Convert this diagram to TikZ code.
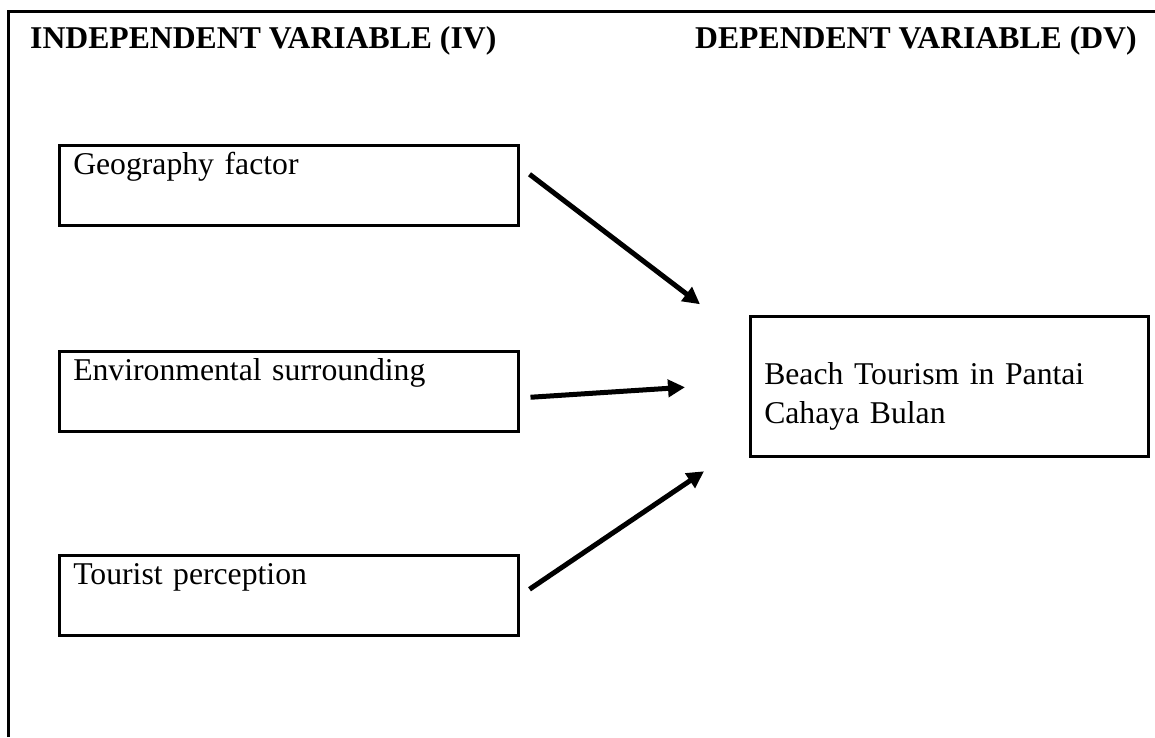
\documentclass[tikz,border=0pt]{standalone}
\usepackage{fontspec}
\setmainfont{Liberation Serif}
\usetikzlibrary{arrows.meta,calc}
\tikzset {>={Triangle[length=17pt,width=17pt]}}

\begin{document}
\begin{tikzpicture}[x=1pt,y=-1pt,
  heading/.style={anchor=base west,inner sep=0pt,
    font=\fontsize{31.7}{39}\selectfont\bfseries},
  varbox/.style={draw,line width=2.5pt,anchor=north west,
    text width=431pt,align=left,inner xsep=14pt,inner ysep=6pt,
    text height=23pt,text depth=45pt,
    font=\fontsize{31.7}{39}\selectfont},
  dvbox/.style={draw,line width=2.5pt,anchor=north west,
    text width=370pt,align=left,inner xsep=14pt,inner ysep=6pt,
    text height=62pt,text depth=66pt,
    font=\fontsize{31.7}{39}\selectfont},
  flow/.style={->,line width=5pt}]
\useasboundingbox (0,0) rectangle (1155,737);
% outer frame (cut at right and bottom)
\draw[line width=3pt] (8,737) -- (8,11) -- (1155,11);
\node[heading] (ivhead) at (30,48) {INDEPENDENT VARIABLE (IV)};
\node[heading] (dvhead) at (695,48) {DEPENDENT VARIABLE (DV)};
% variable boxes
\node[varbox] (geo) at (58,144) {Geography factor};
\node[varbox] (env) at (58,350) {Environmental surrounding};
\node[varbox] (tour) at (58,554) {Tourist perception};
\node[dvbox] (beach) at (749,315) {Beach Tourism in Pantai Cahaya Bulan};
% arrow tips
\coordinate (tipgeo) at ($(beach.west)+(-49,-82)$);
\coordinate (tipenv) at ($(beach.west)+(-64,1)$);
\coordinate (tiptour) at ($(beach.west)+(-45,85)$);
\draw[flow] ([shift={(10,-11)}]geo.east) -- (tipgeo);
\draw[flow] ([shift={(11,6)}]env.east) -- (tipenv);
\draw[flow] ([shift={(10,-6)}]tour.east) -- (tiptour);
\end{tikzpicture}
\end{document}
